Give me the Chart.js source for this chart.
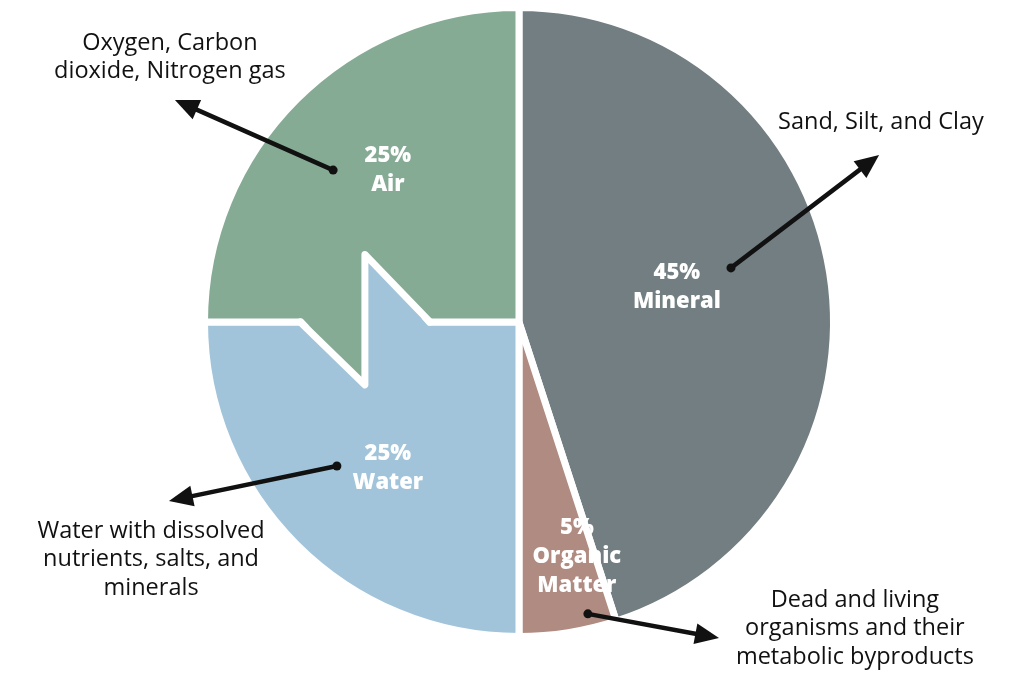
<!DOCTYPE html>
<html><head><meta charset="utf-8">
<script src="https://cdn.jsdelivr.net/npm/chart.js@4/dist/chart.umd.min.js"></script>
<style>html,body{margin:0;padding:0;background:#fff;}#wrap{width:1024px;height:688px;}</style>
</head><body><div id="wrap"><canvas id="c" width="1024" height="688"></canvas></div>
<script>
// ---- data ----
const categories = ['Mineral', 'Organic Matter', 'Water', 'Air'];
const percentages = [45, 5, 25, 25];
const sliceLabels = [['45%', 'Mineral'], ['5%', 'Organic', 'Matter'], ['25%', 'Water'], ['25%', 'Air']];
const descriptions = [
  ['Sand, Silt, and Clay'],
  ['Dead and living', 'organisms and their', 'metabolic byproducts'],
  ['Water with dissolved', 'nutrients, salts, and', 'minerals'],
  ['Oxygen, Carbon', 'dioxide, Nitrogen gas']
];
const colors = ['#727e81', '#b08b81', '#a1c4da', '#86ab95'];

// ---- styling / placement (in units of the pie radius, relative to its centre) ----
const labelOffsets = [[0.502, -0.111], [0.184, 0.747], [-0.417, 0.464], [-0.417, -0.483]];
const callouts = [
  {from: [0.674, -0.172], to: [1.145, -0.531], text: [1.151, -0.636]},
  {from: [0.219, 0.928], to: [0.636, 1.005], text: [1.068, 0.884]},
  {from: [-0.579, 0.458], to: [-1.113, 0.569], text: [-1.170, 0.665]},
  {from: [-0.591, -0.483], to: [-1.094, -0.706], text: [-1.110, -0.887]}
];
const zigzag = [[-0.696, 0], [-0.49, 0.2], [-0.49, -0.215], [-0.283, 0]];

function pieGeom(chart) {
  const arc = chart.getDatasetMeta(0).data[0];
  return arc.getProps(['x', 'y', 'outerRadius'], true);
}

const zigzagPlugin = {
  id: 'zigzagBoundary',
  afterDatasetsDraw(chart) {
    const {ctx} = chart;
    const g = pieGeom(chart);
    const R = g.outerRadius, cx = g.x, cy = g.y;
    const P = (f) => [cx + f[0] * R, cy + f[1] * R];
    const z = zigzag.map(P);
    const gap = 6;
    ctx.save();
    // water tongue pushing up into air
    ctx.fillStyle = colors[2];
    ctx.beginPath();
    ctx.moveTo(z[1][0], cy + gap); ctx.lineTo(z[2][0], z[2][1]); ctx.lineTo(z[3][0], cy + gap);
    ctx.closePath(); ctx.fill();
    // air tongue pushing down into water
    ctx.fillStyle = colors[3];
    ctx.beginPath();
    ctx.moveTo(z[0][0], cy - gap); ctx.lineTo(z[1][0], z[1][1]); ctx.lineTo(z[1][0], cy - gap);
    ctx.closePath(); ctx.fill();
    // white separating line
    ctx.strokeStyle = '#ffffff';
    ctx.lineWidth = 7;
    ctx.lineJoin = 'round';
    ctx.lineCap = 'round';
    ctx.beginPath();
    ctx.moveTo(z[0][0], z[0][1]);
    for (let i = 1; i < z.length; i++) ctx.lineTo(z[i][0], z[i][1]);
    ctx.stroke();
    ctx.restore();
  }
};

const sliceLabelPlugin = {
  id: 'sliceLabels',
  afterDatasetsDraw(chart) {
    const {ctx} = chart;
    const g = pieGeom(chart);
    ctx.save();
    ctx.fillStyle = '#ffffff';
    ctx.font = '800 22px "Open Sans"';
    ctx.textAlign = 'center';
    ctx.textBaseline = 'middle';
    sliceLabels.forEach((lines, i) => {
      const x = g.x + labelOffsets[i][0] * g.outerRadius;
      const y = g.y + labelOffsets[i][1] * g.outerRadius;
      const lh = 29;
      lines.forEach((t, k) => ctx.fillText(t, x, y + (k - (lines.length - 1) / 2) * lh));
    });
    ctx.restore();
  }
};

const calloutPlugin = {
  id: 'callouts',
  afterDraw(chart) {
    const {ctx} = chart;
    const g = pieGeom(chart);
    const R = g.outerRadius, cx = g.x, cy = g.y;
    ctx.save();
    callouts.forEach((c, i) => {
      const sx = cx + c.from[0] * R, sy = cy + c.from[1] * R;
      const tx = cx + c.to[0] * R, ty = cy + c.to[1] * R;
      const dx = tx - sx, dy = ty - sy, len = Math.hypot(dx, dy);
      const ux = dx / len, uy = dy / len;
      const head = 24, half = 10.5;
      const bx = tx - ux * head, by = ty - uy * head;
      ctx.strokeStyle = '#111111';
      ctx.fillStyle = '#111111';
      ctx.lineWidth = 4.5;
      ctx.lineCap = 'round';
      ctx.beginPath();
      ctx.moveTo(sx, sy);
      ctx.lineTo(bx + ux * 4, by + uy * 4);
      ctx.stroke();
      ctx.beginPath();
      ctx.arc(sx, sy, 4.5, 0, Math.PI * 2);
      ctx.fill();
      ctx.beginPath();
      ctx.moveTo(tx, ty);
      ctx.lineTo(bx - uy * half, by + ux * half);
      ctx.lineTo(bx + uy * half, by - ux * half);
      ctx.closePath();
      ctx.fill();
      ctx.fillStyle = '#111111';
      ctx.font = '400 23.5px "Open Sans"';
      ctx.textAlign = 'center';
      ctx.textBaseline = 'middle';
      const x0 = cx + c.text[0] * R, y0 = cy + c.text[1] * R;
      descriptions[i].forEach((t, k) => ctx.fillText(t, x0, y0 + k * 28.5));
    });
    ctx.restore();
  }
};

new Chart(document.getElementById('c'), {
  type: 'pie',
  data: {
    labels: categories,
    datasets: [{
      data: percentages,
      backgroundColor: colors,
      borderColor: '#ffffff',
      borderWidth: 7,
      hoverOffset: 0
    }]
  },
  options: {
    responsive: false,
    animation: false,
    layout: {padding: {top: 4, bottom: 48, left: 119, right: 105}},
    plugins: {legend: {display: false}, tooltip: {enabled: false}}
  },
  plugins: [zigzagPlugin, sliceLabelPlugin, calloutPlugin]
});
</script>
</body></html>
